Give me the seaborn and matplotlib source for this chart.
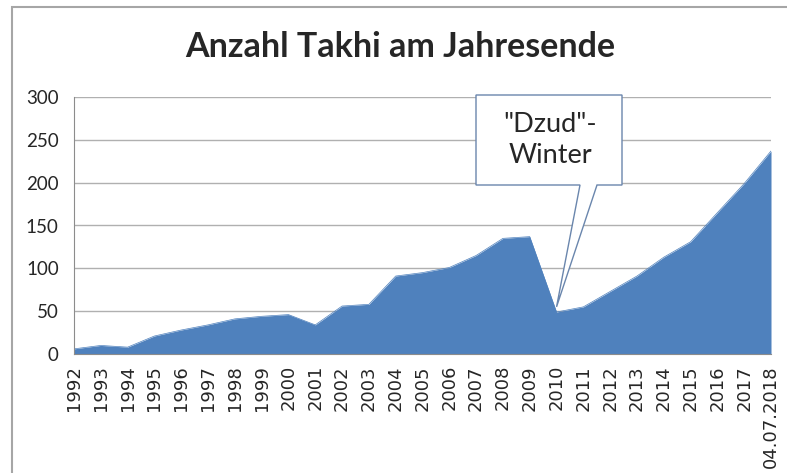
import numpy as np
import pandas as pd
import seaborn as sns
import matplotlib.pyplot as plt
from matplotlib.patches import Rectangle, Polygon

# year labels and Takhi counts at year end
years = ['1992', '1993', '1994', '1995', '1996', '1997', '1998', '1999', '2000',
         '2001', '2002', '2003', '2004', '2005', '2006', '2007', '2008', '2009',
         '2010', '2011', '2012', '2013', '2014', '2015', '2016', '2017', '04.07.2018']
counts = [6, 10, 8, 21, 28, 34, 41, 44, 46,
          34, 56, 58, 91, 95, 101, 115, 135, 137,
          49, 55, 73, 91, 113, 131, 165, 199, 237]
yticks = [0, 50, 100, 150, 200, 250, 300]

df = pd.DataFrame({'pos': np.arange(len(years)), 'year': years, 'count': counts})

sns.set_style("white")
plt.rcParams['font.family'] = ['Lato', 'DejaVu Sans']

fig = plt.figure(figsize=(7.87, 4.73), dpi=100)
ax = fig.add_axes([74/787, 1-354/473, (771-74)/787, (354-97)/473])

blue = '#4f81bd'
sns.lineplot(data=df, x='pos', y='count', ax=ax, color=blue, lw=0.5)
ax.fill_between(df['pos'], 0, df['count'], color=blue, lw=0)

ax.set_xlim(0, len(years)-1)
ax.set_ylim(0, 300)
ax.set_yticks(yticks)
ax.set_yticklabels([str(t) for t in yticks], fontsize=13.5)
ax.set_xticks(df['pos'])
ax.set_xticklabels(years, rotation=90, fontsize=13, family='DejaVu Sans')
ax.set_xlabel('')
ax.set_ylabel('')
ax.grid(axis='y', color='#b0b0b0', lw=1)
ax.set_axisbelow(True)
for s in ['top', 'right']:
    ax.spines[s].set_visible(False)
ax.spines['left'].set_color('#8c8c8c')
ax.spines['bottom'].set_color('#8c8c8c')
ax.tick_params(axis='both', length=5, color='#8c8c8c', direction='out', pad=3)
ax.tick_params(axis='y', pad=6)

fig.text(400/787, 1-47/473, 'Anzahl Takhi am Jahresende', ha='center', va='center',
         fontsize=24.5, fontweight='bold')

# callout box for the Dzud winter
tip_y = 55
box = [(476/787, 1-95/473), (622/787, 1-95/473), (622/787, 1-185/473),
       (597/787, 1-185/473), None, (580/787, 1-185/473), (476/787, 1-185/473)]
tip = ax.transData.transform((years.index('2010'), tip_y))
tip = fig.transFigure.inverted().transform(tip)
box[4] = tuple(tip)
fig.patches.append(Polygon(box, closed=True, transform=fig.transFigure,
                           facecolor='white', edgecolor='#6a86ad', lw=1, zorder=5))
fig.text(550/787, 1-140/473, '"Dzud"-\nWinter', ha='center', va='center',
         fontsize=19.5, linespacing=1.3, zorder=6)

# outer chart frame
fig.patches.append(Rectangle((12/787, -0.1), 1.2, 1-7/473+0.1, transform=fig.transFigure,
                             fill=False, edgecolor='#a6a6a6', lw=1.5))

fig.savefig('out.png', dpi=100)
